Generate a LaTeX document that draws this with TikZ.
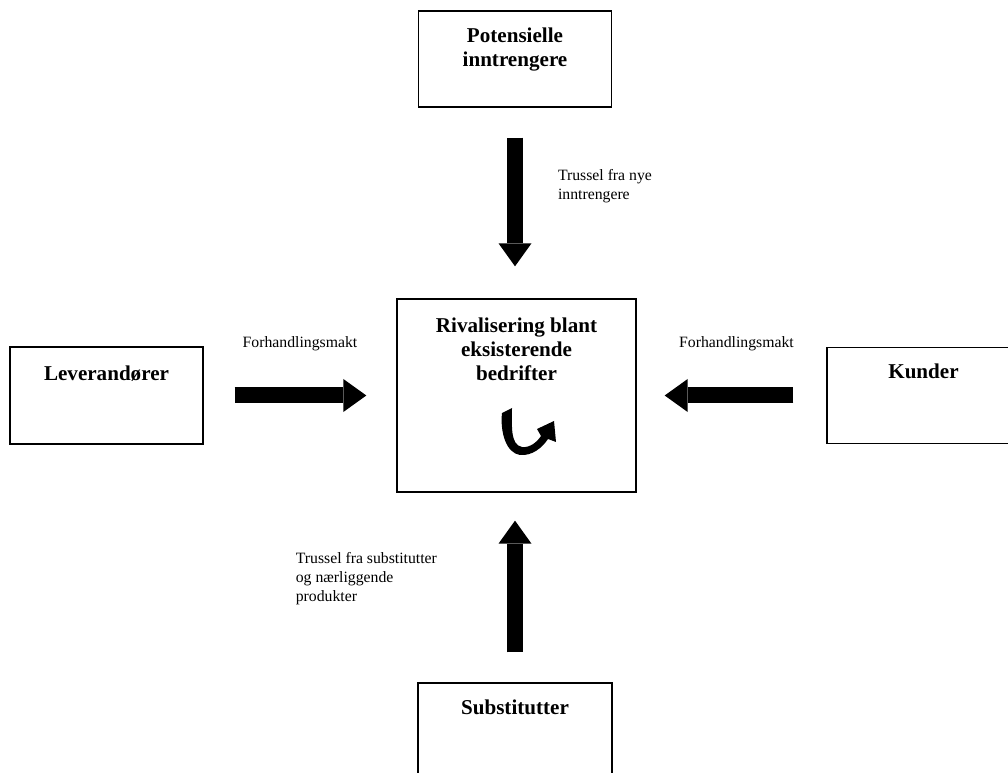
\documentclass[tikz,border=0pt]{standalone}
\usepackage{fontspec}
\setmainfont{Liberation Serif}
\usepackage{tikz}
\usetikzlibrary{arrows.meta, positioning}

\begin{document}
\begin{tikzpicture}[x=0.025cm, y=-0.025cm,
    box/.style={draw, line width=0.9pt, inner sep=0pt},
    boxtitle/.style={font=\bfseries\fontsize{15}{17}\selectfont, align=center, inner sep=0pt},
    forcelabel/.style={font=\fontsize{11.2}{13.5}\selectfont, align=left, inner sep=0pt, outer sep=0pt},
    fatarrow/.style={line width=0.4cm, -{Triangle[length=0.575cm, width=0.825cm, line width=0pt]}}]
    \useasboundingbox (0,0) rectangle (1008,773);
    \clip (0,0) rectangle (1008,773);
    % the five forces
    \node[box, minimum width=4.825cm, minimum height=2.4cm] (pot) at (515,59) {};
    \node[box, minimum width=5.975cm, minimum height=4.825cm] (riv) at (516.5,395.5) {};
    \node[box, minimum width=4.825cm, minimum height=2.425cm] (lev) at (106.5,395.5) {};
    \node[box, minimum width=4.825cm, minimum height=2.4cm] (kun) at (923.5,395.5) {};
    \node[box, minimum width=4.85cm, minimum height=2.425cm] (sub) at (515,731.5) {};
    \node[boxtitle, below=0.425cm of pot.north] (pottxt) {Potensielle\\inntrengere};
    \node[boxtitle, below=0.475cm of riv.north] (rivtxt) {Rivalisering blant\\eksisterende\\bedrifter};
    \node[boxtitle, below=0.475cm of lev.north] (levtxt) {Leverandører};
    \node[boxtitle, below=0.425cm of kun.north] (kuntxt) {Kunder};
    \node[boxtitle, below=0.425cm of sub.north] (subtxt) {Substitutter};
    % arrows
    \draw[fatarrow, shorten <=0.75cm, shorten >=0.8cm] (pot.south) -- node[forcelabel, pos=0.41, right=1.075cm] (potlbl) {Trussel fra nye\\inntrengere} (pot.south |- riv.north);
    \draw[fatarrow, shorten <=0.775cm, shorten >=0.75cm] (lev.east) -- node[forcelabel, above=1.11cm] (levlbl) {Forhandlingsmakt} (riv.west);
    \draw[fatarrow, shorten <=0.825cm, shorten >=0.7cm] (kun.west) -- node[forcelabel, above=1.11cm, xshift=0.125cm] (kunlbl) {Forhandlingsmakt} (riv.east);
    \draw[fatarrow, shorten <=0.75cm, shorten >=0.7cm] (sub.north) -- node[forcelabel, pos=0.545, left=1.95cm] (sublbl) {Trussel fra substitutter\\og nærliggende\\produkter} (sub.north |- riv.south);
    % rivalry swirl
    \fill (502,413) -- (512,408) .. controls (512,425) and (510,445) .. (522,447)
        .. controls (530,448) and (537,442) .. (541,436) -- (537,429) -- (554,421) -- (556,442) -- (548,439)
        .. controls (542,448) and (532,456) .. (520,455) .. controls (506,453) and (500,432) .. cycle;
\end{tikzpicture}
\end{document}
